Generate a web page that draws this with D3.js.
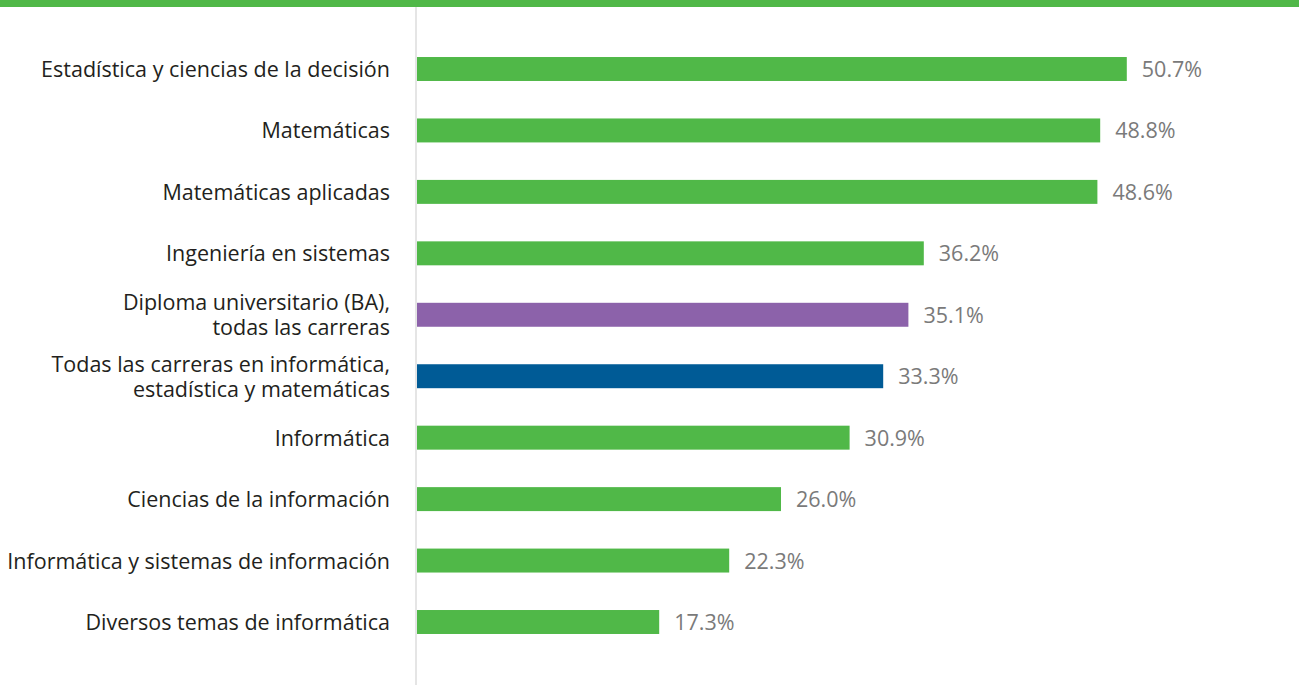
<!DOCTYPE html>
<html>
<head>
<meta charset="utf-8">
<script src="https://cdn.jsdelivr.net/npm/d3@7"></script>
<style>
  html, body { margin: 0; padding: 0; background: #fff; }
  svg { display: block; }
</style>
</head>
<body>
<svg id="chart" width="1299" height="685"></svg>
<script>
// ---- data ----
const categories = [
  "Estadística y ciencias de la decisión",
  "Matemáticas",
  "Matemáticas aplicadas",
  "Ingeniería en sistemas",
  "Diploma universitario (BA),|todas las carreras",
  "Todas las carreras en informática,|estadística y matemáticas",
  "Informática",
  "Ciencias de la información",
  "Informática y sistemas de información",
  "Diversos temas de informática"
];
const values = [50.7, 48.8, 48.6, 36.2, 35.1, 33.3, 30.9, 26.0, 22.3, 17.3];
const groups = ["major", "major", "major", "major", "all", "cs", "major", "major", "major", "major"];
const groupColors = { major: "#50b848", all: "#8c62aa", cs: "#005b96" };

// ---- layout ----
const W = 1299, H = 685;
const svg = d3.select("#chart");
const x0 = 417;
const x = d3.scaleLinear().domain([0, 60]).range([x0, x0 + 840]);
const step = 61.44;
const y = d3.scaleBand()
  .domain(categories)
  .range([69 - step / 2, 622 + step / 2])
  .paddingInner(0.61)
  .paddingOuter(0.305);

// top band
svg.append("rect").attr("x", 0).attr("y", 0).attr("width", W).attr("height", 7).attr("fill", "#50b848");

// vertical axis line
svg.append("line")
  .attr("x1", 416).attr("x2", 416).attr("y1", 7).attr("y2", H)
  .attr("stroke", "#dcdcdc").attr("stroke-width", 1.5);

// bars
svg.selectAll("rect.bar").data(categories).join("rect")
  .attr("class", "bar")
  .attr("x", x(0))
  .attr("y", d => y(d))
  .attr("width", (d, i) => x(values[i]) - x(0))
  .attr("height", y.bandwidth())
  .attr("fill", (d, i) => groupColors[groups[i]]);

const font = "'Open Sans', 'Noto Sans', sans-serif";

// value labels
svg.selectAll("text.val").data(categories).join("text")
  .attr("class", "val")
  .attr("x", (d, i) => x(values[i]) + 15)
  .attr("y", d => y(d) + y.bandwidth() / 2)
  .attr("dy", "0.37em")
  .attr("font-family", font)
  .attr("font-size", 21.5)
  .attr("fill", "#7a7a7a")
  .text((d, i) => values[i].toFixed(1) + "%");

// category labels
const lab = svg.selectAll("text.cat").data(categories).join("text")
  .attr("class", "cat")
  .attr("text-anchor", "end")
  .attr("font-family", font)
  .attr("font-size", 21.5)
  .attr("fill", "#231f20");
lab.each(function (d) {
  const lines = d.split("|");
  const cy = y(d) + y.bandwidth() / 2;
  const lh = 25;
  const t = d3.select(this);
  lines.forEach((ln, k) => {
    t.append("tspan")
      .attr("x", 390)
      .attr("y", cy + (k - (lines.length - 1) / 2) * lh)
      .attr("dy", "0.37em")
      .text(ln);
  });
});
</script>
</body>
</html>
